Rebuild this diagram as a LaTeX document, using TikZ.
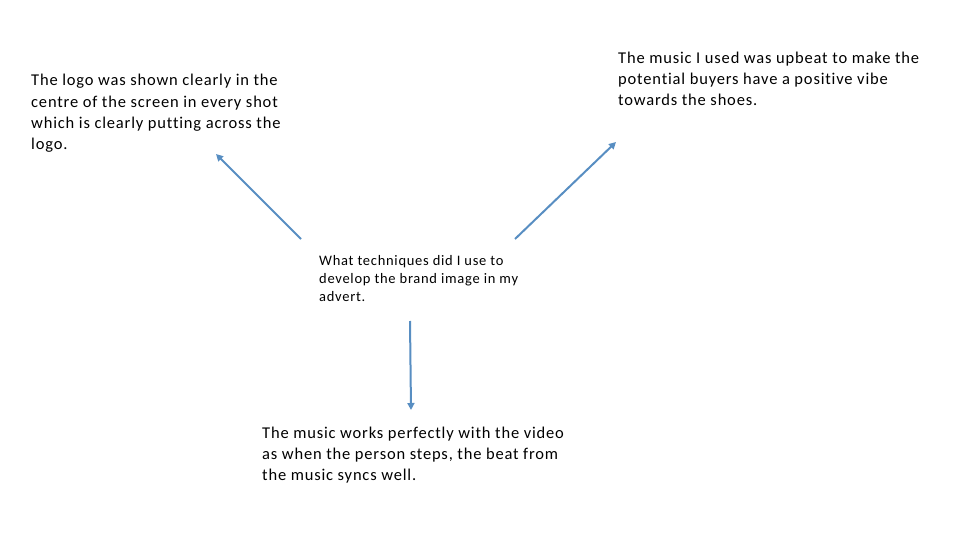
\documentclass[tikz,border=0pt]{standalone}
\usepackage{fontspec}
\setmainfont{Carlito}[LetterSpace=5,RawFeature=-liga]
\usetikzlibrary{arrows.meta}
\definecolor{arrowblue}{RGB}{88,142,194}
\tikzset{
  txt/.style={anchor=north west,inner sep=0pt,align=left,font=\fontsize{16.5}{21.4}\selectfont},
  smalltxt/.style={anchor=north west,inner sep=0pt,align=left,font=\fontsize{14.5}{18}\selectfont},
  conn/.style={draw=arrowblue,line width=2pt,-{Triangle[length=7pt,width=7pt]}}
}
\begin{document}
\begin{tikzpicture}[x=1pt,y=-1pt]
\useasboundingbox (0,0) rectangle (960,540);
\node[txt] (logo) at (31,74) {The logo was shown clearly in the\\centre of the screen in every shot\\which is clearly putting across the\\logo.};
\node[txt] (music) at (618,51.5) {The music I used was upbeat to make the\\potential buyers have a positive vibe\\towards the shoes.};
\node[smalltxt] (q) at (319,255.5) {What techniques did I use to\\develop the brand image in my\\advert.};
\node[txt] (sync) at (262,426.5) {The music works perfectly with the video\\as when the person steps, the beat from\\the music syncs well.};
\coordinate (a1s) at (301,239);
\coordinate (a1e) at (216,154);
\coordinate (a2s) at (515,239);
\coordinate (a2e) at (616,142);
\coordinate (a3s) at (410,321);
\coordinate (a3e) at (411,410);
\draw[conn] (a1s) -- (a1e);
\draw[conn] (a2s) -- (a2e);
\draw[conn] (a3s) -- (a3e);
\end{tikzpicture}
\end{document}
